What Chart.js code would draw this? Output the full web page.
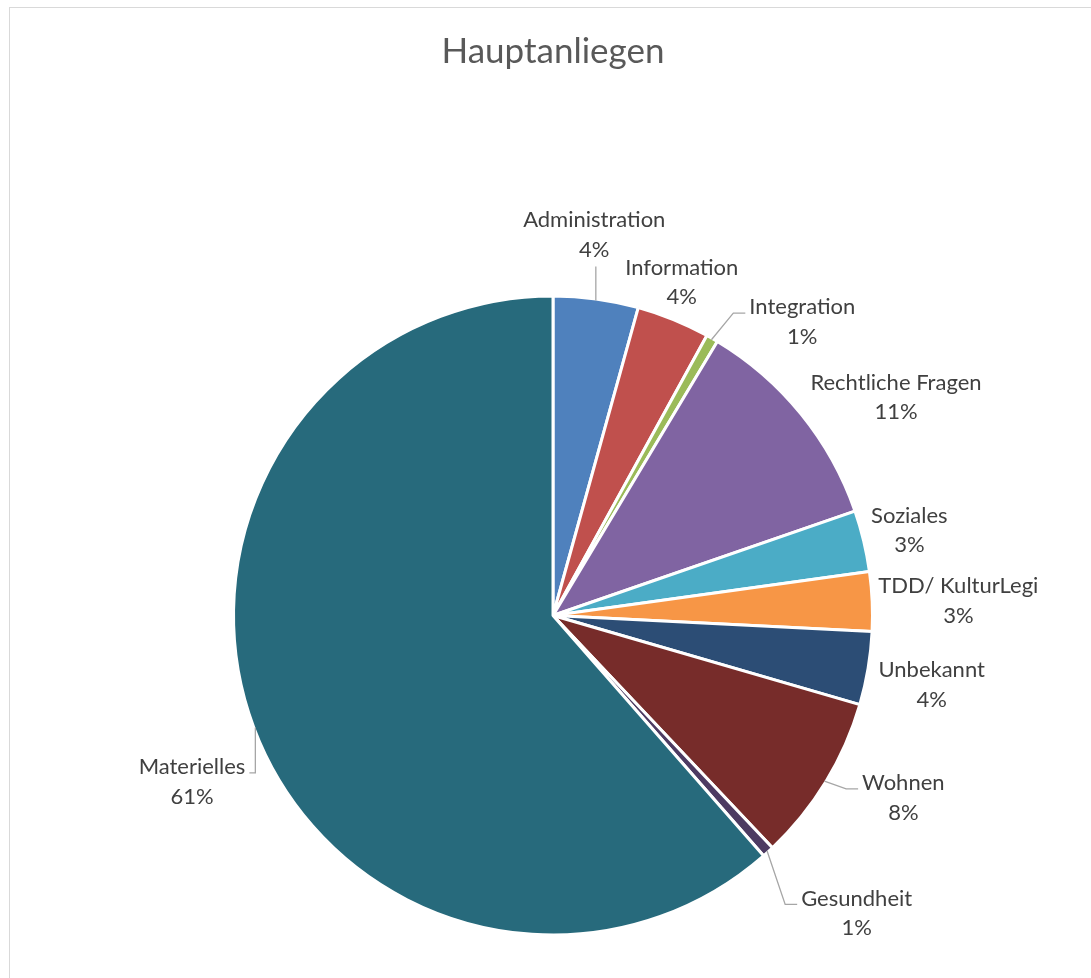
<!DOCTYPE html>
<html>
<head>
<meta charset="utf-8">
<script src="https://cdn.jsdelivr.net/npm/chart.js@4.4.1/dist/chart.umd.min.js"></script>
<style>
  html, body { margin: 0; padding: 0; background: #ffffff; overflow: hidden; }
  #frame { position: absolute; left: 9px; top: 7px; width: 1200px; height: 1100px;
           border-left: 1px solid #d9d9d9; border-top: 1px solid #d9d9d9; box-sizing: border-box; }
  #wrap { position: absolute; left: 0; top: 0; width: 1091px; height: 978px; }
</style>
</head>
<body>
<div id="frame"></div>
<div id="wrap"><canvas id="chart" width="1091" height="978"></canvas></div>
<script>
// ---- data ----
const chartTitle = 'Hauptanliegen';
const categories = [
  'Administration', 'Information', 'Integration', 'Rechtliche Fragen', 'Soziales',
  'TDD/ KulturLegi', 'Unbekannt', 'Wohnen', 'Gesundheit', 'Materielles'
];
const shares = [4.3, 3.7, 0.6, 11.1, 3.1, 3.0, 3.7, 8.45, 0.6, 61.45];

// ---- styling ----
const sliceColors = [
  '#4F81BD', '#C0504D', '#9BBB59', '#8064A2', '#4BACC6',
  '#F79646', '#2C4D75', '#772C2A', '#4D3B62', '#276A7C'
];
// label placement relative to each slice: angular turn (deg, clockwise) from the slice middle, distance as factor of radius
const labelPlacement = [
  { turn: -1.55, dist: 1.2035 },
  { turn: -1.0,  dist: 1.1227 },
  { turn: 10.46, dist: 1.211 },
  { turn: 6.62,  dist: 1.278 },
  { turn: 0.08,  dist: 1.152 },
  { turn: 0.47,  dist: 1.2755 },
  { turn: 0.86,  dist: 1.2107 },
  { turn: -3.93, dist: 1.2418 },
  { turn: -3.26, dist: 1.3375 },
  { turn: -4.11, dist: 1.2497 }
];
const FONT = 'Lato, "Open Sans", sans-serif';
const BORDER_W = 3;

const pieLabels = {
  id: 'pieLabels',
  afterDraw(chart, args, opts) {
    const ctx = chart.ctx;
    const meta = chart.getDatasetMeta(0);
    const total = shares.reduce((a, b) => a + b, 0);
    ctx.save();
    ctx.font = opts.size + 'px ' + opts.family;
    ctx.textAlign = 'center';
    ctx.textBaseline = 'middle';
    const lh = opts.lineHeight;
    meta.data.forEach((arc, i) => {
      const p = arc.getProps(['x', 'y', 'startAngle', 'endAngle', 'outerRadius'], true);
      const mid = (p.startAngle + p.endAngle) / 2;
      const rEdge = p.outerRadius - BORDER_W / 2;
      const pl = labelPlacement[i];
      const a = mid + pl.turn * Math.PI / 180;
      const d = rEdge * pl.dist;
      const cx = p.x + Math.cos(a) * d;
      const cy = p.y + Math.sin(a) * d;
      const lines = [categories[i], Math.round(shares[i] / total * 100) + '%'];
      const w = Math.max(...lines.map(t => ctx.measureText(t).width));
      const h = lh * lines.length;
      const x0 = cx - w / 2, x1 = cx + w / 2, y0 = cy - h / 2, y1 = cy + h / 2;
      // leader line
      const ax = p.x + Math.cos(mid) * rEdge;
      const ay = p.y + Math.sin(mid) * rEdge;
      const ddx = Math.max(x0 - ax, 0, ax - x1);
      const ddy = Math.max(y0 - ay, 0, ay - y1);
      if (Math.hypot(ddx, ddy) > opts.leaderThreshold) {
        ctx.beginPath();
        ctx.strokeStyle = opts.leaderColor;
        ctx.lineWidth = opts.leaderWidth;
        if (ax > x0 && ax < x1) {
          const ey = ay > y1 ? y1 + 2 : y0 - 2;
          ctx.moveTo(ax, ay);
          ctx.lineTo(ax, ey);
        } else {
          const right = ax > x1;
          const py = cy - lh * 0.3;
          const px = right ? x1 + 4 : x0 - 4;
          const stub = Math.min(12, Math.abs(ax - px));
          const qx = right ? px + stub : px - stub;
          ctx.moveTo(px, py);
          ctx.lineTo(qx, py);
          ctx.lineTo(ax, ay);
        }
        ctx.stroke();
      }
      ctx.fillStyle = opts.color;
      lines.forEach((t, k) => {
        ctx.fillText(t, cx, cy - h / 2 + lh * (k + 0.5));
      });
    });
    ctx.restore();
  }
};

new Chart(document.getElementById('chart'), {
  type: 'pie',
  data: {
    labels: categories,
    datasets: [{
      data: shares,
      backgroundColor: sliceColors,
      borderColor: '#ffffff',
      borderWidth: BORDER_W,
      hoverOffset: 0
    }]
  },
  options: {
    responsive: false,
    animation: false,
    events: [],
    layout: { padding: { left: 15, right: 0, top: 0, bottom: 41.5 } },
    plugins: {
      legend: { display: false },
      tooltip: { enabled: false },
      title: {
        display: true,
        text: chartTitle,
        color: '#595959',
        font: { family: FONT, size: 35, weight: 'normal', lineHeight: 1.2 },
        padding: { top: 31, bottom: 221.5 }
      },
      pieLabels: {
        family: FONT, size: 22, lineHeight: 29.5, color: '#404040',
        leaderColor: '#a6a6a6', leaderWidth: 1.3, leaderThreshold: 20
      }
    }
  },
  plugins: [pieLabels]
});
</script>
</body>
</html>
